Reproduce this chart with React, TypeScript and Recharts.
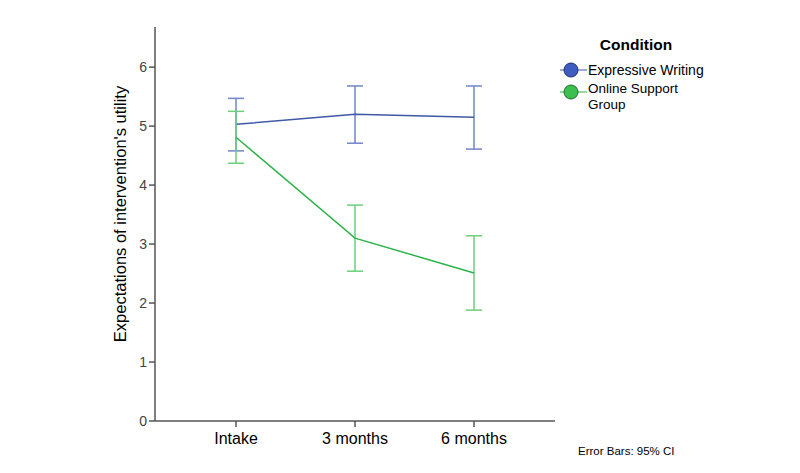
import React from "react";
import {
  LineChart,
  Line,
  XAxis,
  YAxis,
  ErrorBar,
} from "recharts";

const FONT = "'Liberation Sans', Arial, sans-serif";

const timepoints = ["Intake", "3 months", "6 months"];

const writingMean = [5.03, 5.2, 5.15];
const writingLow = [4.58, 4.71, 4.61];
const writingHigh = [5.47, 5.68, 5.68];

const supportMean = [4.81, 3.1, 2.51];
const supportLow = [4.37, 2.54, 1.88];
const supportHigh = [5.25, 3.66, 3.14];

const yTicks = [0, 1, 2, 3, 4, 5, 6];
const yMax = 6.68;

const BLUE_LINE = "#4058a8";
const BLUE_BAR = "#7185c9";
const BLUE_DOT = "#3f5cc0";
const GREEN_LINE = "#2bb449";
const GREEN_BAR = "#6ccf7c";
const GREEN_DOT = "#3dbf4f";
const FRAME = "#555";

const data = timepoints.map((t, i) => ({
  time: t,
  writing: writingMean[i],
  writingErr: [writingMean[i] - writingLow[i], writingHigh[i] - writingMean[i]],
  support: supportMean[i],
  supportErr: [supportMean[i] - supportLow[i], supportHigh[i] - supportMean[i]],
}));

function LegendBox() {
  return (
    <svg width={200} height={90} style={{ overflow: "visible", display: "block" }}>
      <text x={76} y={22} textAnchor="middle" fontFamily={FONT} fontSize={15.5} fontWeight="bold" fill="#000">
        Condition
      </text>
      <line x1={0} x2={27} y1={42} y2={42} stroke={BLUE_LINE} strokeWidth={1} />
      <circle cx={11} cy={42} r={7} fill={BLUE_DOT} stroke="#1e2f6e" strokeWidth={1} />
      <text x={28} y={47} fontFamily={FONT} fontSize={14} fill="#000">
        Expressive Writing
      </text>
      <line x1={0} x2={27} y1={64} y2={64} stroke={GREEN_LINE} strokeWidth={1} />
      <circle cx={11} cy={64} r={7} fill={GREEN_DOT} stroke="#1e6e2e" strokeWidth={1} />
      <text x={28} y={65} fontFamily={FONT} fontSize={13.5} fill="#000">
        Online Support
      </text>
      <text x={28} y={80.5} fontFamily={FONT} fontSize={13.5} fill="#000">
        Group
      </text>
    </svg>
  );
}

export default function App() {
  return (
    <div style={{ position: "absolute", left: 0, top: 0, width: 800, height: 473, background: "#fff" }}>
      <LineChart
        width={800}
        height={473}
        data={data}
        margin={{ top: 27, right: 245, bottom: 0, left: 0 }}
      >
        <XAxis
          dataKey="time"
          type="category"
          scale="point"
          padding={{ left: 81, right: 81 }}
          interval={0}
          height={52}
          axisLine={{ stroke: FRAME, strokeWidth: 1.5 }}
          tickLine={{ stroke: FRAME, strokeWidth: 1.5 }}
          tickSize={6}
          tick={{ fill: "#000", fontSize: 16, fontFamily: FONT }}
          dy={4}
        />
        <XAxis
          xAxisId="top"
          orientation="top"
          dataKey="time"
          type="category"
          scale="point"
          padding={{ left: 81, right: 81 }}
          height={0}
          tick={false}
          tickLine={false}
          axisLine={{ stroke: FRAME, strokeWidth: 1.5 }}
        />
        <YAxis
          type="number"
          domain={[0, yMax]}
          ticks={yTicks}
          allowDataOverflow
          width={155}
          axisLine={{ stroke: FRAME, strokeWidth: 1.5 }}
          tickLine={{ stroke: FRAME, strokeWidth: 1.5 }}
          tickSize={6}
          tick={{ fill: "#444", fontSize: 14, fontFamily: FONT }}
          label={({ viewBox }: any) => (
            <text
              x={0}
              y={0}
              transform={`translate(126, ${viewBox.y + viewBox.height / 2 - 10}) rotate(-90)`}
              textAnchor="middle"
              fontFamily={FONT}
              fontSize={16.5}
              fill="#000"
            >
              Expectations of intervention's utility
            </text>
          )}
        />
        <YAxis
          yAxisId="right"
          orientation="right"
          type="number"
          domain={[0, yMax]}
          width={0}
          tick={false}
          tickLine={false}
          axisLine={{ stroke: FRAME, strokeWidth: 1.5 }}
        />
        <Line
          dataKey="writing"
          type="linear"
          stroke={BLUE_LINE}
          strokeWidth={1.5}
          dot={false}
          isAnimationActive={false}
        >
          <ErrorBar dataKey="writingErr" direction="y" width={8} stroke={BLUE_BAR} strokeWidth={1.5} />
        </Line>
        <Line
          dataKey="support"
          type="linear"
          stroke={GREEN_LINE}
          strokeWidth={1.5}
          dot={false}
          isAnimationActive={false}
        >
          <ErrorBar dataKey="supportErr" direction="y" width={8} stroke={GREEN_BAR} strokeWidth={1.5} />
        </Line>
      </LineChart>
      <div style={{ position: "absolute", left: 560, top: 28 }}>
        <LegendBox />
      </div>
      <div
        style={{
          position: "absolute",
          left: 578,
          top: 445,
          fontFamily: FONT,
          fontSize: 11.5,
          color: "#000",
        }}
      >
        Error Bars: 95% CI
      </div>
    </div>
  );
}
